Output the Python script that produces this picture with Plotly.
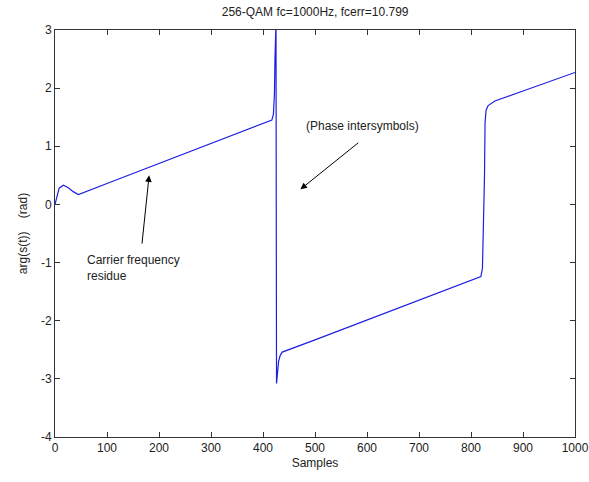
import plotly.graph_objects as go

# Unwrapped-phase trace of the demodulated signal (sample index, radians)
samples = [0, 3, 8, 16, 25, 35, 45, 100, 200, 300, 400, 412, 417, 420, 422, 423,
           424, 425, 426, 428, 430, 433, 437, 500, 600, 700, 800, 815, 819, 822,
           824, 826, 827, 829, 833, 840, 846, 900, 1000]
phase = [0.0, 0.12, 0.28, 0.33, 0.29, 0.22, 0.17, 0.36, 0.70, 1.04, 1.38, 1.42,
         1.45, 1.55, 1.90, 2.50, 3.14, 3.14, -3.08, -2.85, -2.70, -2.60, -2.54,
         -2.33, -1.99, -1.65, -1.31, -1.26, -1.24, -1.10, -0.50, 0.50, 1.40,
         1.62, 1.70, 1.75, 1.78, 1.95, 2.27]

x_ticks = [0, 100, 200, 300, 400, 500, 600, 700, 800, 900, 1000]
y_ticks = [-4, -3, -2, -1, 0, 1, 2, 3]

title_text = "256-QAM fc=1000Hz, fcerr=10.799"
font_family = "Liberation Sans, Arial, sans-serif"
text_font = dict(family=font_family, size=12, color="#222222")

fig = go.Figure()
fig.add_trace(go.Scatter(
    x=samples, y=phase, mode="lines",
    line=dict(color="rgb(30,30,225)", width=1.2),
    hoverinfo="x+y", showlegend=False,
))

axis_common = dict(
    showgrid=False, zeroline=False, showline=True, linecolor="#333333",
    linewidth=1, mirror="ticks", ticks="inside", ticklen=5, tickwidth=1,
    tickcolor="#333333", tickfont=text_font, automargin=False,
)

fig.update_layout(
    width=589, height=482,
    margin=dict(l=55, r=14, t=30, b=45),
    paper_bgcolor="white", plot_bgcolor="white",
    font=text_font,
    title=dict(text=title_text, x=0.535, xanchor="center", y=0.975, yanchor="middle",
               font=text_font),
    xaxis=dict(range=[0, 1000], tickvals=x_ticks, ticktext=[str(v) for v in x_ticks],
               title=dict(text="Samples", standoff=4, font=text_font), **axis_common),
    yaxis=dict(range=[-4, 3], tickvals=y_ticks, ticktext=[str(v) for v in y_ticks],
               title=dict(text="arg(s(t))    (rad)", standoff=10, font=text_font),
               **axis_common),
)

# Arrows pointing at features of the trace
fig.add_annotation(x=181, y=0.50, ax=167, ay=-0.70, xref="x", yref="y",
                   axref="x", ayref="y", text="", showarrow=True,
                   arrowhead=2, arrowsize=1.3, arrowwidth=1, arrowcolor="black")
fig.add_annotation(x=472, y=0.26, ax=586, ay=1.08, xref="x", yref="y",
                   axref="x", ayref="y", text="", showarrow=True,
                   arrowhead=2, arrowsize=1.3, arrowwidth=1, arrowcolor="black")

# Text labels
fig.add_annotation(x=58, y=-1.09, xref="x", yref="y", xanchor="left", yanchor="middle",
                   text="Carrier frequency<br>residue", showarrow=False, align="left",
                   font=text_font)
fig.add_annotation(x=592, y=1.35, xref="x", yref="y", xanchor="center", yanchor="middle",
                   text="(Phase intersymbols)", showarrow=False, font=text_font)

fig.write_html("out.html")
